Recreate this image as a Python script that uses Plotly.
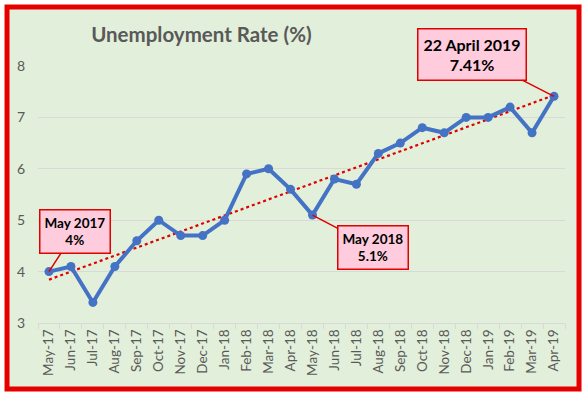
import numpy as np
import plotly.graph_objects as go

months = ["May-17", "Jun-17", "Jul-17", "Aug-17", "Sep-17", "Oct-17", "Nov-17", "Dec-17",
          "Jan-18", "Feb-18", "Mar-18", "Apr-18", "May-18", "Jun-18", "Jul-18", "Aug-18",
          "Sep-18", "Oct-18", "Nov-18", "Dec-18", "Jan-19", "Feb-19", "Mar-19", "Apr-19"]
rates = [4.0, 4.1, 3.4, 4.1, 4.6, 5.0, 4.7, 4.7, 5.0, 5.9, 6.0, 5.6,
         5.1, 5.8, 5.7, 6.3, 6.5, 6.8, 6.7, 7.0, 7.0, 7.2, 6.7, 7.41]
y_ticks = [3, 4, 5, 6, 7, 8]

callout_idx = [0, 12, 23]
callout_text = ["<b>May 2017</b><br><b>4%</b>", "<b>May 2018</b><br><b>5.1%</b>",
                "<b>22 April 2019</b><br><b>7.41%</b>"]

idx = np.arange(len(rates))
slope, intercept = np.polyfit(idx, rates, 1)
trend = slope * idx + intercept

fig = go.Figure()
fig.add_trace(go.Scatter(x=months, y=trend, mode="lines",
                         line=dict(color="#E00000", width=2.2, dash="dot"),
                         hoverinfo="skip"))
fig.add_trace(go.Scatter(x=months, y=rates, mode="lines+markers",
                         line=dict(color="#4472C4", width=4),
                         marker=dict(color="#4472C4", size=9)))

offsets = [(26, -40, 13.5, 4), (61, 32, 13.5, 4), (-82, -42, 16, 5)]
for i, txt, (ax, ay, fs, pad) in zip(callout_idx, callout_text, offsets):
    fig.add_annotation(x=months[i], y=rates[i], text=txt, showarrow=True,
                       ax=ax, ay=ay, arrowhead=0, arrowcolor="#E00000", arrowwidth=1.5,
                       bgcolor="#FFCCDD", bordercolor="#E00000", borderwidth=1.5,
                       borderpad=pad, font=dict(family="Lato", size=fs, color="#000000"))

fig.add_shape(type="rect", xref="paper", yref="paper",
              x0=-0.0588, x1=1.0266, y0=-0.2568, y1=1.2296,
              line=dict(color="#E60000", width=5), fillcolor="#E2EFDA", layer="below")

fig.update_layout(
    width=587, height=394,
    margin=dict(l=38, r=22, t=66, b=71, autoexpand=False),
    paper_bgcolor="white", plot_bgcolor="rgba(0,0,0,0)",
    showlegend=False,
    font=dict(family="Lato", color="#595959"),
    title=dict(text="<b>Unemployment Rate (%)</b>", x=0.31, xref="paper", xanchor="center",
               y=0.911, yanchor="middle", font=dict(family="Lato", size=20.5, color="#595959")),
)
fig.update_xaxes(type="category", categoryorder="array", categoryarray=months,
                 range=[-0.5, len(months) - 0.5], tickangle=-90,
                 tickfont=dict(size=13.5, color="#595959"), automargin=False,
                 showgrid=False, showline=True, linecolor="#D9D9D9", linewidth=1,
                 ticks="outside", tickson="boundaries", ticklen=5, tickcolor="#D9D9D9")
fig.update_yaxes(range=[3, 8], tickvals=y_ticks, showgrid=True, gridcolor="#D9D9D9",
                 gridwidth=1, zeroline=False, tickfont=dict(size=14, color="#595959"),
                 ticklabelstandoff=12, automargin=False)

fig.write_html("out.html", config={"displayModeBar": False},
               post_script="document.body.style.margin='0';")
